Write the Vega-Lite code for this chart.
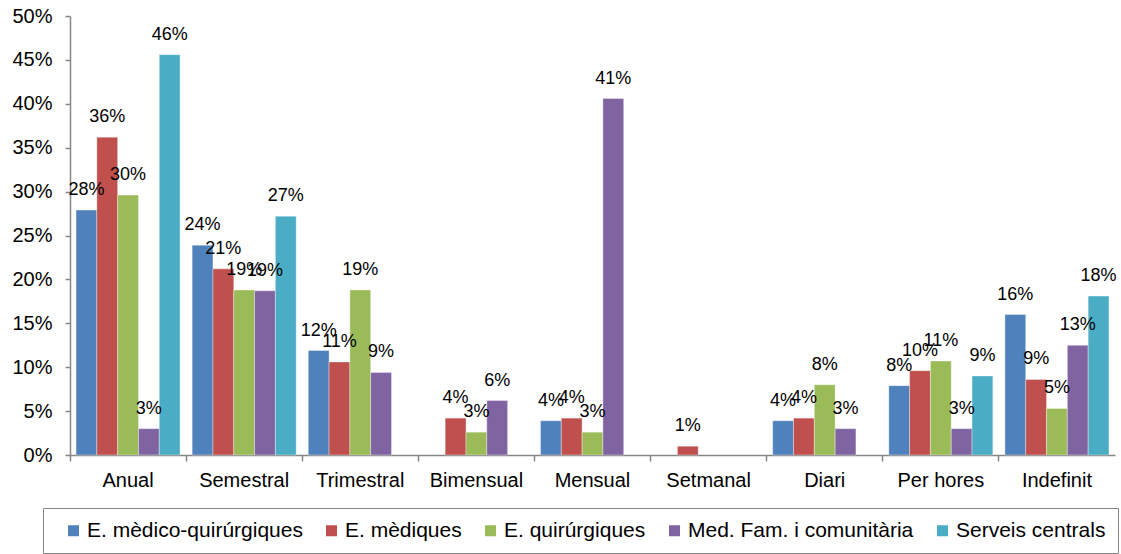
{
  "$schema": "https://vega.github.io/schema/vega-lite/v6.json",
  "width": 1045,
  "height": 439,
  "autosize": "none",
  "padding": {"left": 70, "top": 16, "right": 6, "bottom": 99},
  "background": "#ffffff",
  "config": {
    "view": {"stroke": null},
    "font": "Liberation Sans",
    "axis": {"grid": false, "domainColor": "#868686", "tickColor": "#868686", "labelColor": "#000000", "labelFont": "Liberation Sans", "title": null}
  },
  "data": {
    "values": [
      {"cat": "Anual", "grp": "E. mèdico-quirúrgiques", "v": 0.279},
      {"cat": "Anual", "grp": "E. mèdiques", "v": 0.362},
      {"cat": "Anual", "grp": "E. quirúrgiques", "v": 0.296},
      {"cat": "Anual", "grp": "Med. Fam. i comunitària", "v": 0.030},
      {"cat": "Anual", "grp": "Serveis centrals", "v": 0.456},
      {"cat": "Semestral", "grp": "E. mèdico-quirúrgiques", "v": 0.239},
      {"cat": "Semestral", "grp": "E. mèdiques", "v": 0.212},
      {"cat": "Semestral", "grp": "E. quirúrgiques", "v": 0.188},
      {"cat": "Semestral", "grp": "Med. Fam. i comunitària", "v": 0.187},
      {"cat": "Semestral", "grp": "Serveis centrals", "v": 0.272},
      {"cat": "Trimestral", "grp": "E. mèdico-quirúrgiques", "v": 0.119},
      {"cat": "Trimestral", "grp": "E. mèdiques", "v": 0.106},
      {"cat": "Trimestral", "grp": "E. quirúrgiques", "v": 0.188},
      {"cat": "Trimestral", "grp": "Med. Fam. i comunitària", "v": 0.094},
      {"cat": "Bimensual", "grp": "E. mèdiques", "v": 0.042},
      {"cat": "Bimensual", "grp": "E. quirúrgiques", "v": 0.026},
      {"cat": "Bimensual", "grp": "Med. Fam. i comunitària", "v": 0.062},
      {"cat": "Mensual", "grp": "E. mèdico-quirúrgiques", "v": 0.039},
      {"cat": "Mensual", "grp": "E. mèdiques", "v": 0.042},
      {"cat": "Mensual", "grp": "E. quirúrgiques", "v": 0.026},
      {"cat": "Mensual", "grp": "Med. Fam. i comunitària", "v": 0.406},
      {"cat": "Setmanal", "grp": "E. mèdiques", "v": 0.010},
      {"cat": "Diari", "grp": "E. mèdico-quirúrgiques", "v": 0.039},
      {"cat": "Diari", "grp": "E. mèdiques", "v": 0.042},
      {"cat": "Diari", "grp": "E. quirúrgiques", "v": 0.080},
      {"cat": "Diari", "grp": "Med. Fam. i comunitària", "v": 0.030},
      {"cat": "Per hores", "grp": "E. mèdico-quirúrgiques", "v": 0.079},
      {"cat": "Per hores", "grp": "E. mèdiques", "v": 0.096},
      {"cat": "Per hores", "grp": "E. quirúrgiques", "v": 0.107},
      {"cat": "Per hores", "grp": "Med. Fam. i comunitària", "v": 0.030},
      {"cat": "Per hores", "grp": "Serveis centrals", "v": 0.090},
      {"cat": "Indefinit", "grp": "E. mèdico-quirúrgiques", "v": 0.160},
      {"cat": "Indefinit", "grp": "E. mèdiques", "v": 0.086},
      {"cat": "Indefinit", "grp": "E. quirúrgiques", "v": 0.053},
      {"cat": "Indefinit", "grp": "Med. Fam. i comunitària", "v": 0.125},
      {"cat": "Indefinit", "grp": "Serveis centrals", "v": 0.181}
    ]
  },
  "encoding": {
    "x": {
      "field": "cat", "type": "nominal", "sort": null,
      "scale": {"domain": ["Anual", "Semestral", "Trimestral", "Bimensual", "Mensual", "Setmanal", "Diari", "Per hores", "Indefinit"], "paddingInner": 0, "paddingOuter": 0},
      "axis": {"labelAngle": 0, "labelFontSize": 20, "tickSize": 6, "labelPadding": 9, "bandPosition": 0, "domainWidth": 1.5, "tickWidth": 1.5}
    },
    "xOffset": {
      "field": "grp", "type": "nominal",
      "scale": {"domain": ["E. mèdico-quirúrgiques", "E. mèdiques", "E. quirúrgiques", "Med. Fam. i comunitària", "Serveis centrals"], "paddingInner": 0, "paddingOuter": 0.29}
    },
    "y": {
      "field": "v", "type": "quantitative",
      "scale": {"domain": [0, 0.5], "nice": false},
      "axis": {"format": ".0%", "values": [0, 0.05, 0.1, 0.15, 0.2, 0.25, 0.3, 0.35, 0.4, 0.45, 0.5], "labelFontSize": 20, "tickSize": 5, "labelPadding": 13, "domainWidth": 1.5, "tickWidth": 1.5}
    }
  },
  "layer": [
    {
      "mark": {"type": "bar", "stroke": "#ffffff", "strokeWidth": 0.6, "strokeOpacity": 0.6},
      "encoding": {
        "color": {
          "field": "grp", "type": "nominal",
          "scale": {"domain": ["E. mèdico-quirúrgiques", "E. mèdiques", "E. quirúrgiques", "Med. Fam. i comunitària", "Serveis centrals"], "range": ["#4F81BD", "#C0504D", "#9BBB59", "#8064A2", "#4BACC6"]},
          "legend": {
            "title": null, "orient": "none", "legendX": -27, "legendY": 492, "direction": "horizontal",
            "symbolType": "square", "symbolSize": 121, "symbolStrokeWidth": 0, "symbolOffset": 8,
            "labelFontSize": 21, "labelFont": "Liberation Sans", "labelColor": "#000000", "labelOffset": 3, "labelLimit": 0,
            "columnPadding": 10, "padding": 12, "strokeColor": "#868686"
          }
        }
      }
    },
    {
      "mark": {"type": "text", "baseline": "alphabetic", "dy": -15, "fontSize": 18, "font": "Liberation Sans", "color": "#000000"},
      "encoding": {
        "text": {"field": "v", "type": "quantitative", "format": ".0%"}
      }
    }
  ]
}
